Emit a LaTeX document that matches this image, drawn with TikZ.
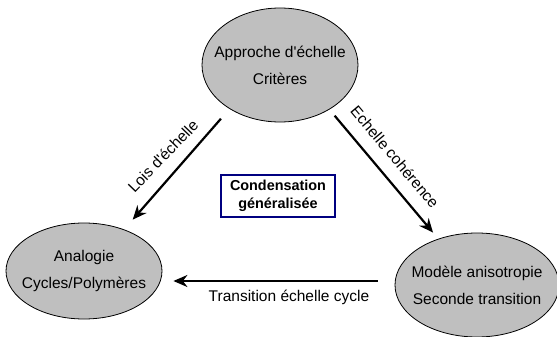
\documentclass[tikz,border=0pt]{standalone}
\usepackage{fontspec}
\setmainfont{Liberation Sans}
\usetikzlibrary{arrows.meta,shapes.geometric}
\definecolor{boxblue}{RGB}{0,0,128}

\begin{document}
\begin{tikzpicture}[x=1pt,y=-1pt,
  etat/.style={ellipse,draw,fill=gray!50,line width=0.8pt,align=center,
    inner xsep=-30pt,inner ysep=0pt,font=\fontsize{15.5}{27}\selectfont},
  fleche/.style={-{Stealth[length=14pt,width=12pt]},line width=2.2pt},
  etiq/.style={inner sep=0pt,font=\fontsize{15.5}{18}\selectfont}]

  \useasboundingbox (0,0) rectangle (557,337);

  \node[etat,minimum width=156pt,minimum height=114pt] (app) at (280,65) {Approche d\textquotesingle échelle\\Critères};
  \node[etat,minimum width=156pt,minimum height=96pt] (ana) at (84,271) {Analogie\\Cycles/Polymères};
  \node[etat,minimum width=164pt,minimum height=104pt] (mod) at (477,285) {Modèle anisotropie\\Seconde transition};

  \node[draw=boxblue,line width=1.2pt,align=center,minimum width=114pt,minimum height=42pt,
    inner sep=2pt,font=\bfseries\fontsize{14.4}{18}\selectfont] (cond) at (278,196) {Condensation\\généralisée};

  \draw[fleche,shorten <=13pt,shorten >=13pt] (app.221) -- (ana.46);
  \draw[fleche,shorten <=8pt,shorten >=8pt] (app.318) -- (mod.130);
  \draw[fleche] ([xshift=-17pt,yshift=4pt]mod.west) -- ([xshift=11pt,yshift=-10pt]ana.east);

  \node[etiq,rotate=46] (lois) at (163,156) {Lois d\textquotesingle échelle};
  \node[etiq,rotate=-50] (coh) at (395,157) {Echelle cohérence};
  \node[etiq] (trans) at (289,297) {Transition échelle cycle};

\end{tikzpicture}
\end{document}
